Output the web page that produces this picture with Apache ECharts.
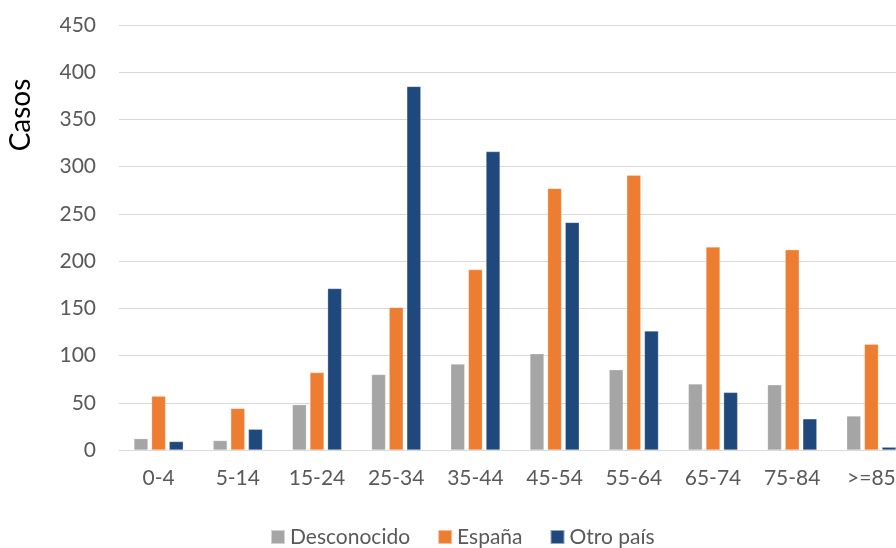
<!DOCTYPE html>
<html>
<head>
<meta charset="utf-8">
<script src="https://cdn.jsdelivr.net/npm/echarts@6/dist/echarts.min.js"></script>
<style>
  html, body { margin: 0; padding: 0; background: #fff; overflow: hidden; }
  #chart { width: 911px; height: 548px; }
</style>
</head>
<body>
<div id="chart"></div>
<script>
// Age groups on the x axis
const ageGroups = ['0-4', '5-14', '15-24', '25-34', '35-44', '45-54', '55-64', '65-74', '75-84', '>=85'];

// Cases by origin
const desconocido = [12, 10, 48, 80, 91, 102, 85, 70, 69, 36];
const espana      = [57, 44, 82, 151, 191, 277, 291, 215, 212, 112];
const otroPais    = [9, 22, 171, 385, 316, 241, 126, 61, 33, 3];

const seriesNames = ['Desconocido', 'España', 'Otro país'];
const seriesColors = ['#a5a5a5', '#ed7d31', '#1f497d'];
const axisTitle = 'Casos';

const font = 'Lato, "Open Sans", sans-serif';

const chart = echarts.init(document.getElementById('chart'));

function barSeries(name, data, color) {
  return {
    name: name,
    type: 'bar',
    data: data,
    barWidth: 14,
    barGap: '26%',
    itemStyle: { color: color, borderColor: 'rgba(255,255,255,0.5)', borderWidth: 0.5 },
    emphasis: { disabled: true }
  };
}

chart.setOption({
  animation: false,
  textStyle: { fontFamily: font },
  grid: { left: 119, right: 0, top: 25, bottom: 98, containLabel: false },
  legend: {
    top: 525,
    left: 270,
    padding: 0,
    itemWidth: 14,
    itemHeight: 14,
    itemGap: 27,
    icon: 'rect',
    textStyle: { fontSize: 21, color: '#595959', fontFamily: font, lineHeight: 24 },
    data: seriesNames
  },
  graphic: [{
    type: 'text',
    x: 21,
    y: 115,
    rotation: Math.PI / 2,
    style: {
      text: axisTitle,
      fontSize: 28,
      fill: '#000',
      fontFamily: font,
      align: 'center',
      verticalAlign: 'middle'
    }
  }],
  xAxis: {
    type: 'category',
    data: ageGroups,
    axisLine: { show: true, lineStyle: { color: '#d9d9d9', width: 1 } },
    axisTick: { show: false },
    axisLabel: { fontSize: 21, color: '#595959', margin: 18, fontFamily: font }
  },
  yAxis: {
    type: 'value',
    min: 0,
    max: 450,
    interval: 50,
    axisLine: { show: false },
    axisTick: { show: false },
    axisLabel: { fontSize: 21, color: '#595959', margin: 23, fontFamily: font },
    splitLine: { lineStyle: { color: '#d9d9d9', width: 1 } }
  },
  series: [
    barSeries(seriesNames[0], desconocido, seriesColors[0]),
    barSeries(seriesNames[1], espana, seriesColors[1]),
    barSeries(seriesNames[2], otroPais, seriesColors[2])
  ]
});
</script>
</body>
</html>
